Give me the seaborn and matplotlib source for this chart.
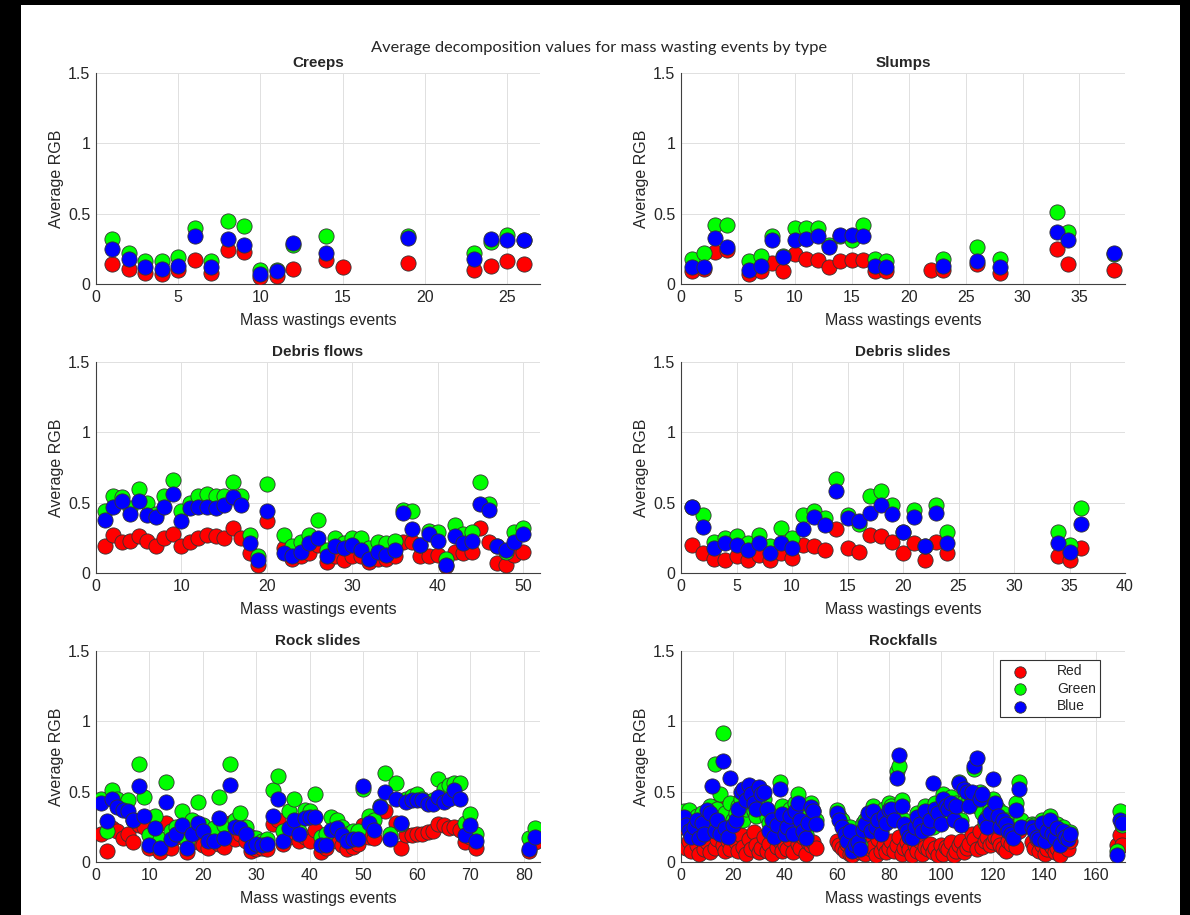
import numpy as np
import matplotlib.pyplot as plt
import seaborn as sns
from matplotlib.patches import Rectangle

nan = np.nan

# Creeps
creeps_x = [1, 2, 3, 4, 5, 6, 7, 8, 9, 10, 11, 12, 14, 15, 19, 23, 24, 25, 26]
creeps_r = [.14, .11, .08, .07, .10, .17, .08, .24, .23, .05, .06, .11, .17, .12, .15, .10, .13, .16, .14]
creeps_g = [.32, .22, .16, .16, .19, .40, .16, .45, .41, .10, .10, .28, .34, nan, .34, .22, .30, .35, .31]
creeps_b = [.25, .18, .12, .11, .13, .34, .12, .32, .28, .07, .09, .29, .22, nan, .33, .18, .32, .31, .31]

# Slumps
slumps_x = [1, 2, 3, 4, 6, 7, 8, 9, 10, 11, 12, 13, 14, 15, 16, 17, 18, 22, 23, 26, 28, 33, 34, 38]
slumps_r = [.09, .11, .23, .24, .07, .09, .15, .09, .21, .18, .17, .12, .16, .17, .17, .09, .09, .10, .10, .14, .08, .25, .14, .10]
slumps_g = [.18, .22, .42, .42, .16, .20, .34, .20, .40, .40, .40, .28, .34, .31, .42, .18, .16, nan, .18, .26, .18, .51, .37, .21]
slumps_b = [.12, .12, .33, .26, .10, .13, .31, .19, .31, .32, .34, .26, .35, .35, .34, .13, .12, nan, .13, .16, .12, .37, .31, .22]

# Debris flows
dflows_x = list(range(1, 21)) + list(range(22, 51))
dflows_r = [.19, .27, .22, .23, .26, .23, .19, .25, .28, .19, .22, .25, .27, .26, .25, .32, .25, .14, .06, .37,
            .18, .10, .12, .14, .20, .08, .12, .09, .12, .12, .08, .10, .10, .12, .22, .22, .12, .12, .13, .05,
            .15, .14, .15, .32, .22, .07, .06, .13, .15]
dflows_g = [.44, .55, .54, .46, .60, .50, .42, .55, .66, .44, .50, .55, .56, .55, .55, .65, .55, .27, .12, .63,
            .27, .19, .22, .27, .38, .16, .25, .21, .25, .25, .18, .22, .21, .23, .45, .44, .20, .30, .29, .10,
            .34, .28, .29, .65, .49, .19, .15, .29, .32]
dflows_b = [.38, .47, .51, .42, .51, .41, .40, .47, .56, .37, .46, .47, .47, .46, .48, .54, .48, .21, .09, .44,
            .14, .12, .15, .21, .25, .12, .19, .18, .20, .16, .10, .15, .13, .16, .43, .31, .20, .28, .23, .06,
            .26, .21, .23, .49, .45, .19, .16, .22, .28]

# Debris slides
dslides_x = list(range(1, 25)) + [34, 35, 36]
dslides_r = [.20, .14, .10, .09, .12, .09, .13, .09, .14, .11, .20, .19, .16, .31, .18, .15, .27, .26, .22, .14,
             .21, .09, .22, .14, .12, .09, .18]
dslides_g = [.47, .41, .22, .25, .26, .21, .27, .19, .32, .25, .41, .44, .39, .67, .41, .35, .55, .58, .48, .29,
             .45, .19, .48, .29, .29, .20, .46]
dslides_b = [.47, .33, .18, .21, .20, .16, .21, .14, .21, .18, .31, .40, .34, .58, .39, .37, .43, .48, .42, .29,
             .40, .19, .43, .21, .21, .15, .35]

# Rock slides
rslides_x = list(range(1, 72)) + [81, 82]
rslides_r = [.20, .08, .24, .22, .17, .20, .14, .26, .25, .10, .24, .07, .28, .10, .18, .19, .07, .18, .14, .12,
             .10, .16, .13, .11, .28, .16, .20, .15, .08, .09, .10, .09, .27, .30, .13, .18, .21, .15, .18, .15,
             .23, .07, .10, .18, .15, .12, .09, .11, .13, .26, .18, .17, .37, .36, .17, .28, .10, .19, .19, .20,
             .20, .21, .22, .27, .26, .24, .25, .23, .14, .18, .10, .08, .14]
rslides_g = [.45, .22, .51, .45, .40, .44, .30, .70, .46, .19, .33, .16, .57, .22, .25, .36, .15, .30, .43, .26,
             .20, .24, .46, .26, .70, .30, .35, .25, .18, .17, .15, .16, .51, .61, .22, .36, .45, .22, .37, .36,
             .48, .18, .20, .32, .30, .25, .20, .22, .22, .52, .33, .30, .40, .63, .20, .56, .27, .45, .47, .48,
             .45, .43, .44, .59, .52, .55, .56, .56, .28, .34, .20, .17, .24]
rslides_b = [.42, .29, .45, .39, .37, .36, .30, .54, .33, .12, .24, .10, .43, .16, .20, .26, .10, .20, .28, .22,
             .15, .15, .31, .17, .55, .25, .24, .20, .11, .13, .12, .13, .33, .45, .15, .24, .30, .20, .31, .32,
             .32, .12, .12, .23, .24, .19, .15, .16, .16, .54, .28, .23, .39, .50, .16, .45, .28, .43, .44, .44,
             .44, .41, .41, .46, .43, .45, .51, .45, .19, .26, .15, .09, .18]

# Rockfalls
rfalls_x = list(range(1, 53)) + list(range(60, 132)) + list(range(135, 151)) + [168, 169, 170]
rfalls_r = [.25, .10, .15, .08, .20, .12, .06, .18, .09, .14, .07, .22, .10, .16, .42, .12, .08, .15, .09, .20,
            .14, .08, .19, .11, .06, .16, .09, .21, .12, .07, .10, .18, .08, .13, .06, .20, .11, .15, .08, .12,
            .09, .16, .07, .22, .13, .10, .18, .06, .14, .12, .14, .10,
            .15, .12, .10, .08, .13, .06, .05, .09, .12, .07, .10, .06, .14, .09, .11, .05, .16, .08, .12, .07,
            .10, .15, .08, .12, .18, .06, .10, .14, .09, .05, .12, .08, .15, .06, .11, .09, .13, .07, .10, .05,
            .12, .06, .11, .09, .14, .05, .08, .12, .15, .07, .10, .13, .20, .16, .09, .22, .11, .15, .18, .12,
            .14, .18, .16, .12, .10, .08, .15, .13, .20, .11, .22, .25,
            .14, .10, .16, .08, .12, .06, .09, .13, .11, .07, .10, .05, .14, .12, .09, .15,
            .12, .19, .12]
rfalls_g = [.36, .30, .37, .22, .28, .33, .20, .35, .26, .31, .40, .33, .70, .38, .48, .92, .35, .25, .42, .30,
            .35, .40, .45, .30, .38, .48, .42, .36, .33, .50, .40, .45, .32, .28, .35, .22, .30, .57, .40, .27,
            .30, .38, .25, .42, .48, .35, .28, .20, .33, .42, .36, .30,
            .37, .33, .30, .22, .18, .25, .15, .20, .17, .12, .28, .30, .33, .25, .40, .28, .35, .22, .38, .30,
            .42, .40, .34, .65, .68, .44, .30, .25, .22, .20, .28, .35, .30, .28, .40, .26, .33, .25, .42, .38,
            .30, .48, .44, .40, .46, .35, .42, .57, .30, .43, .50, .45, .42, .66, .40, .50, .35, .28, .32, .38,
            .45, .40, .38, .28, .35, .30, .26, .22, .20, .42, .57, .30,
            .27, .26, .22, .20, .30, .18, .25, .33, .22, .19, .27, .15, .25, .20, .18, .21,
            .08, .36, .26]
rfalls_b = [.32, .26, .22, .18, .25, .30, .17, .28, .20, .37, .35, .54, .22, .30, .20, .72, .24, .18, .60, .26,
            .30, .38, .50, .52, .44, .55, .48, .42, .38, .53, .48, .50, .38, .22, .30, .18, .26, .52, .34, .20,
            .25, .33, .20, .36, .42, .30, .22, .17, .28, .39, .36, .27,
            .35, .30, .25, .20, .15, .22, .08, .12, .14, .09, .23, .27, .35, .22, .36, .25, .30, .20, .33, .28,
            .37, .38, .30, .60, .76, .40, .27, .22, .18, .17, .25, .32, .27, .22, .36, .24, .30, .56, .38, .35,
            .27, .45, .40, .38, .42, .30, .40, .56, .26, .52, .50, .40, .50, .68, .74, .45, .48, .30, .25, .35,
            .59, .42, .33, .25, .30, .27, .22, .20, .17, .37, .52, .25,
            .25, .22, .18, .16, .28, .15, .22, .30, .20, .17, .24, .12, .22, .18, .16, .20,
            .05, .30, .28]

panels = [
    ("Creeps", creeps_x, creeps_r, creeps_g, creeps_b, 27, 5),
    ("Slumps", slumps_x, slumps_r, slumps_g, slumps_b, 39, 5),
    ("Debris flows", dflows_x, dflows_r, dflows_g, dflows_b, 52, 10),
    ("Debris slides", dslides_x, dslides_r, dslides_g, dslides_b, 40, 5),
    ("Rock slides", rslides_x, rslides_r, rslides_g, rslides_b, 83, 10),
    ("Rockfalls", rfalls_x, rfalls_r, rfalls_g, rfalls_b, 171, 20),
]

sns.set_style("white")
plt.rcParams['font.family'] = ['Liberation Sans', 'DejaVu Sans']

fig = plt.figure(figsize=(11.9, 9.15), dpi=100)
fig.patch.set_facecolor('black')
# white page area inside the black edge of the screenshot
fig.patches.append(Rectangle((21 / 1190, 0), 1159 / 1190, 910 / 915,
                             transform=fig.transFigure, facecolor='white',
                             edgecolor='none', zorder=-10))

lefts = [96 / 1190, 681 / 1190]
bottoms = [(915 - 284) / 915, (915 - 573) / 915, (915 - 862) / 915]
w, h = 444 / 1190, 211 / 915

for i, (name, xs, r, g, b, xmax, step) in enumerate(panels):
    ax = fig.add_axes([lefts[i % 2], bottoms[i // 2], w, h])
    ax.set_facecolor('white')
    for vals, col, lab in [(r, (1, 0, 0), 'Red'), (g, (0, 1, 0), 'Green'), (b, (0, 0, 1), 'Blue')]:
        sns.scatterplot(x=xs, y=vals, color=col, s=120, edgecolor='0.2', linewidth=0.6,
                        ax=ax, label=lab, legend=False, zorder=3)
    ax.set_xlim(0, xmax)
    ax.set_ylim(0, 1.5)
    ax.set_xticks(np.arange(0, xmax + 1, step))
    ax.set_yticks([0, 0.5, 1, 1.5])
    ax.set_yticklabels(['0', '0.5', '1', '1.5'])
    ax.grid(True, color='0.88', linewidth=0.7)
    ax.set_axisbelow(True)
    for sp in ['top', 'right']:
        ax.spines[sp].set_visible(False)
    for sp in ['left', 'bottom']:
        ax.spines[sp].set_color('0.25')
        ax.spines[sp].set_linewidth(0.8)
    ax.tick_params(direction='in', length=3, width=0.7, labelsize=11.5, colors='0.15', pad=4)
    ax.set_title(name, fontsize=11, fontweight='bold', pad=4)
    ax.set_xlabel('Mass wastings events', fontsize=11.5, labelpad=6)
    ax.set_ylabel('Average RGB', fontsize=11.5, labelpad=3)
    if name == "Rockfalls":
        leg = ax.legend(loc='upper right', bbox_to_anchor=(0.944, 0.957), borderaxespad=0,
                        fontsize=10, frameon=True, fancybox=False, framealpha=1, edgecolor='0.2',
                        markerscale=0.75, handletextpad=1.6, borderpad=0.3,
                        labelspacing=0.25, handlelength=2.2)
        leg.get_frame().set_linewidth(0.8)

fig.text(0.503, 0.947, 'Average decomposition values for mass wasting events by type',
         ha='center', va='center', fontsize=11.8, family=['Lato', 'DejaVu Sans'])

plt.savefig('out.png', dpi=100, facecolor=fig.get_facecolor())
